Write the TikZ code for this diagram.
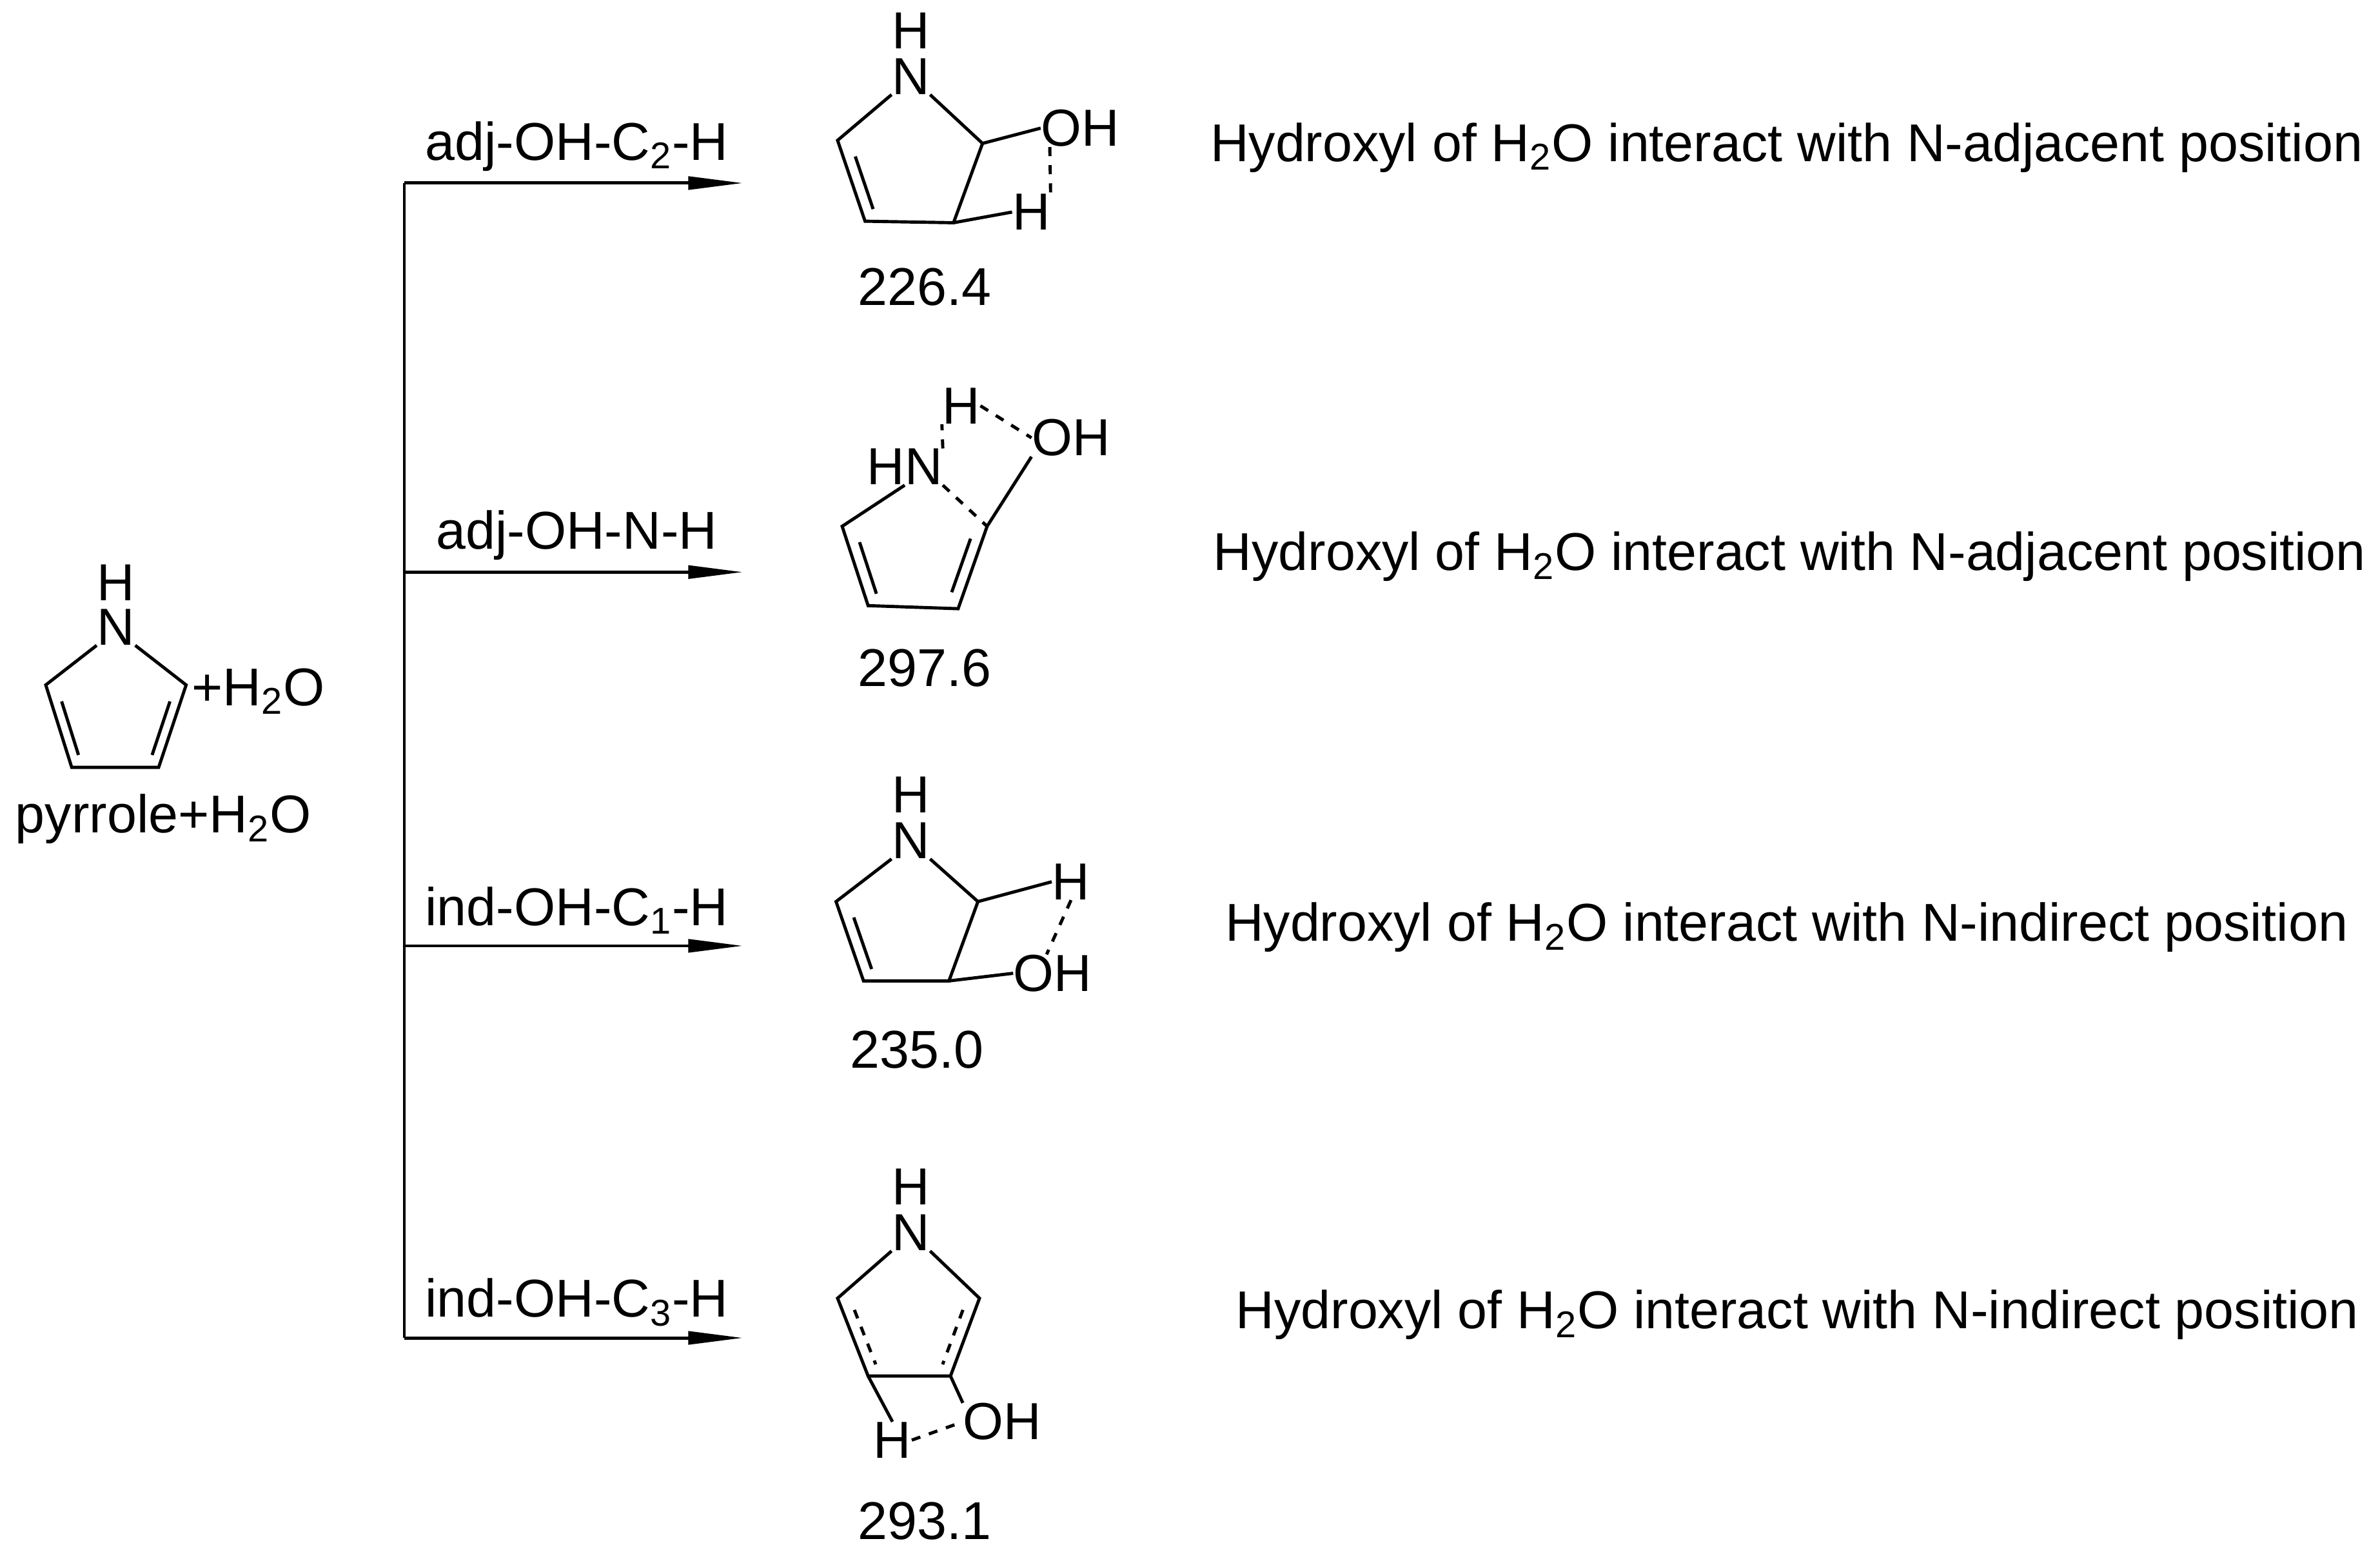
\documentclass[tikz,border=0pt]{standalone}
\usepackage{fontspec}
\setmainfont{Liberation Sans}
\usetikzlibrary{arrows.meta,calc,positioning}

\tikzset{
    atom/.style={inner sep=0pt, font=\fontsize{23}{25}\selectfont},
    lbl/.style={inner sep=1pt, font=\fontsize{23.5}{25}\selectfont},
    bond/.style={line width=1.4pt},
    hbond/.style={line width=1.4pt, dash pattern=on 4pt off 4pt},
    branch/.style={line width=1.4pt, -{Triangle[length=0.85cm,width=0.2cm]}}
}

\begin{document}
\begin{tikzpicture}[x=0.02366cm, y=-0.02366cm]
    \useasboundingbox (0,0) rectangle (1560,1016);

    % reactant
    \node[atom] (nh0) at (76,382) {H};
    \node[atom] (n0) at (76,411) {N};
    \coordinate (a0) at (30,449);
    \coordinate (b0) at (47,503);
    \coordinate (c0) at (104,503);
    \coordinate (d0) at (122,449);
    \draw[bond] (n0.south west) -- (a0) -- (b0) -- (c0) -- (d0) -- (n0.south east);
    \draw[bond] ($(a0)!0.2!(b0)+(7,0)$) -- ($(a0)!0.85!(b0)+(7,0)$);
    \draw[bond] ($(d0)!0.2!(c0)+(-7,0)$) -- ($(d0)!0.85!(c0)+(-7,0)$);
    \node[lbl, anchor=west] (water) at (124,453) {+H\textsubscript{2}O};
    \node[lbl] (react) at (107,537) {pyrrole+H\textsubscript{2}O};

    % branches
    \coordinate (top) at (265,120);
    \coordinate (bot) at (265,877);
    \draw[bond] (top) -- (bot);
    \foreach \y/\name/\txt in {120/r1/adj-OH-C\textsubscript{2}-H,
                               375/r2/adj-OH-N-H,
                               620/r3/ind-OH-C\textsubscript{1}-H,
                               877/r4/ind-OH-C\textsubscript{3}-H}{
        \coordinate (\name s) at (265,\y);
        \coordinate (\name e) at (487,\y);
        \draw[branch] (\name s) -- (\name e);
        \node[lbl, anchor=south] (\name lab) at (378,\y-6) {\txt};
    }

    % product 1
    \node[atom] (h1) at (597,20) {H};
    \node[atom] (n1) at (597,50) {N};
    \coordinate (a1) at (549,92);
    \coordinate (b1) at (567,145);
    \coordinate (c1) at (625,146);
    \coordinate (d1) at (644,94);
    \node[atom] (oh1) at (708,84) {OH};
    \node[atom] (hh1) at (676,139) {H};
    \draw[bond] (n1.south west) -- (a1) -- (b1) -- (c1) -- (d1) -- (n1.south east);
    \draw[bond] ($(a1)!0.2!(b1)+(8,0)$) -- ($(a1)!0.85!(b1)+(8,0)$);
    \draw[bond] (d1) -- (oh1.west);
    \draw[bond] (c1) -- (hh1.west);
    \draw[hbond] ($(oh1.south west)+(6,0)$) -- (hh1.north east);
    \node[lbl] (e1) at (606,188) {226.4};

    % product 2
    \node[atom] (h2) at (630,266) {H};
    \node[atom] (n2) at (593,306) {HN};
    \coordinate (a2) at (552,345);
    \coordinate (b2) at (569,397);
    \coordinate (c2) at (628,399);
    \coordinate (d2) at (647,345);
    \node[atom] (oh2) at (702,287) {OH};
    \draw[bond] (n2.south) -- (a2) -- (b2) -- (c2) -- (d2);
    \draw[bond] ($(a2)!0.2!(b2)+(8,0)$) -- ($(a2)!0.85!(b2)+(8,0)$);
    \draw[bond] ($(d2)!0.15!(c2)+(-8,0)$) -- ($(d2)!0.8!(c2)+(-8,0)$);
    \draw[bond] (d2) -- (oh2.south west);
    \draw[hbond] (n2.south east) -- (d2);
    \draw[hbond] (n2.north east) -- (h2.south west);
    \draw[hbond] (h2.east) -- (oh2.west);
    \node[lbl] (e2) at (606,438) {297.6};

    % product 3
    \node[atom] (h3) at (597,521) {H};
    \node[atom] (n3) at (597,551) {N};
    \coordinate (a3) at (548,591);
    \coordinate (b3) at (566,643);
    \coordinate (c3) at (622,643);
    \coordinate (d3) at (641,591);
    \node[atom] (hh3) at (702,578) {H};
    \node[atom] (oh3) at (690,638) {OH};
    \draw[bond] (n3.south west) -- (a3) -- (b3) -- (c3) -- (d3) -- (n3.south east);
    \draw[bond] ($(a3)!0.2!(b3)+(8,0)$) -- ($(a3)!0.85!(b3)+(8,0)$);
    \draw[bond] (d3) -- (hh3.west);
    \draw[bond] (c3) -- (oh3.west);
    \draw[hbond] (hh3.south) -- ($(oh3.north)+(-4,0)$);
    \node[lbl] (e3) at (601,688) {235.0};

    % product 4
    \node[atom] (h4) at (597,778) {H};
    \node[atom] (n4) at (597,808) {N};
    \coordinate (a4) at (549,851);
    \coordinate (b4) at (569,902);
    \coordinate (c4) at (623,902);
    \coordinate (d4) at (642,851);
    \node[atom] (oh4) at (657,932) {OH};
    \node[atom] (hh4) at (585,944) {H};
    \draw[bond] (n4.south west) -- (a4) -- (b4) -- (c4) -- (d4) -- (n4.south east);
    \draw[hbond] ($(a4)!0.15!(b4)+(8,0)$) -- ($(a4)!0.85!(b4)+(8,0)$);
    \draw[hbond] ($(d4)!0.15!(c4)+(-8,0)$) -- ($(d4)!0.85!(c4)+(-8,0)$);
    \draw[bond] (b4) -- (hh4.north);
    \draw[bond] (c4) -- (oh4.north west);
    \draw[hbond] (hh4.east) -- (oh4.west);
    \node[lbl] (e4) at (606,997) {293.1};

    % descriptions
    \node[lbl] (t1) at (1171,97) {Hydroxyl of H\textsubscript{2}O interact with N-adjacent position};
    \node[lbl] (t2) at (1173,365) {Hydroxyl of H\textsubscript{2}O interact with N-adjacent position};
    \node[lbl] (t3) at (1171,608) {Hydroxyl of H\textsubscript{2}O interact with N-indirect position};
    \node[lbl] (t4) at (1178,862) {Hydroxyl of H\textsubscript{2}O interact with N-indirect position};
\end{tikzpicture}
\end{document}
